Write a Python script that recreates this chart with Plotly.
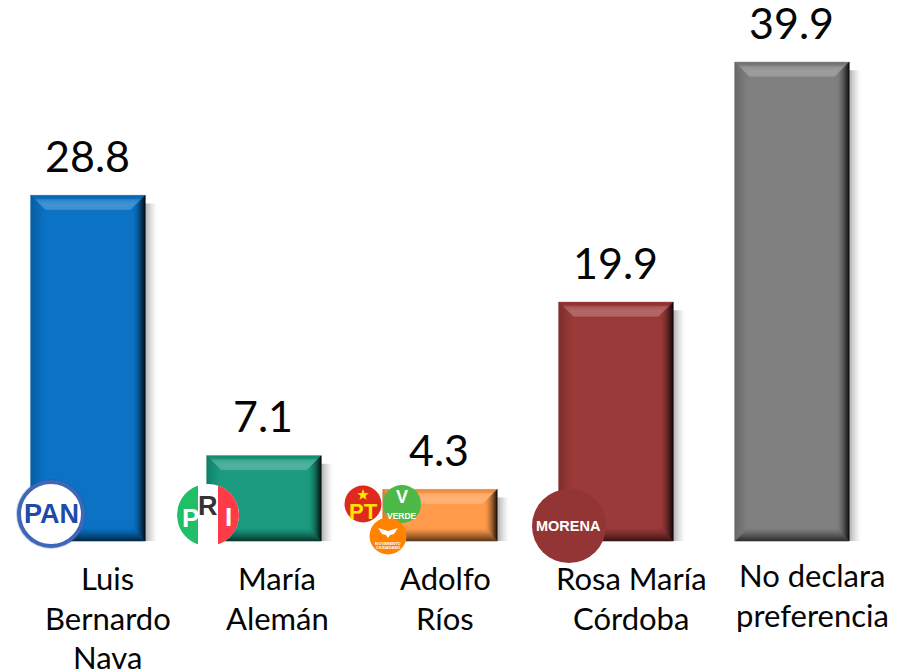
import math
import plotly.graph_objects as go

categories = ["Luis Bernardo Nava", "María Alemán", "Adolfo Ríos", "Rosa María Córdoba", "No declara preferencia"]
values = [28.8, 7.1, 4.3, 19.9, 39.9]
value_text = ["28.8", "7.1", "4.3", "19.9", "39.9"]
base_colors = ["#0B72C4", "#1B9B7F", "#FF9B4B", "#9A3A39", "#808080"]
label_lines = [["Luis", "Bernardo", "Nava"], ["María", "Alemán"], ["Adolfo", "Ríos"], ["Rosa María", "Córdoba"], ["No declara", "preferencia"]]
label_dx = [19.5, 13, 5, 15, 20]
label_top = [563, 563, 563, 563, 560]

W, H = 900, 672
PLOT_W = 880
BASE_Y = 541
PX_PER_UNIT = 12.0
Y_MAX = BASE_Y / PX_PER_UNIT
Y_MIN = -(H - BASE_Y) / PX_PER_UNIT
BAR_GAP = 0.35
FONT = "Lato"
INK = "#050505"


def rgb(h):
    return tuple(int(h[i:i + 2], 16) for i in (1, 3, 5))


def mix(h, other, t):
    a = rgb(h)
    return "rgb(%d,%d,%d)" % tuple(round(a[i] + (other[i] - a[i]) * t) for i in range(3))


WHITE, BLACK = (255, 255, 255), (0, 0, 0)


def poly(cat, pts, fill, layer="above", line=None, width=0):
    path = "M " + " L ".join("%.2f,%.2f" % p for p in pts) + " Z"
    return dict(type="path", xsizemode="pixel", ysizemode="pixel", xanchor=cat, yanchor=0,
                path=path, fillcolor=fill, layer=layer,
                line=dict(width=width, color=line or fill))


def circle(cat, cx, cy, r, fill, line=None, width=0):
    return dict(type="circle", xsizemode="pixel", ysizemode="pixel", xanchor=cat, yanchor=0,
                x0=cx - r, x1=cx + r, y0=cy - r, y1=cy + r, fillcolor=fill, layer="above",
                line=dict(width=width, color=line or fill))


def segment(cx, cy, r, xa, xb, n=24):
    xa, xb = max(xa, -r), min(xb, r)
    pts = []
    for i in range(n + 1):
        x = xa + (xb - xa) * i / n
        pts.append((cx + x, cy + math.sqrt(max(r * r - x * x, 0))))
    for i in range(n + 1):
        x = xb - (xb - xa) * i / n
        pts.append((cx + x, cy - math.sqrt(max(r * r - x * x, 0))))
    return pts


def star(cx, cy, r):
    pts = []
    for k in range(10):
        rad = r if k % 2 == 0 else r * 0.42
        ang = math.pi / 2 + k * math.pi / 5
        pts.append((cx + rad * math.cos(ang), cy + rad * math.sin(ang)))
    return pts


shapes = []
annotations = []
unit_x = PLOT_W / len(values)
half = unit_x * (1 - BAR_GAP) / 2
STEPS, STEP = 7, 2.0

for i, (v, col) in enumerate(zip(values, base_colors)):
    h = v * PX_PER_UNIT
    # soft shadow, to the right of the bar
    for k in range(8):
        shapes.append(poly(i, [(half + k * 1.5, 0), (half + (k + 1) * 1.5, 0),
                               (half + (k + 1) * 1.5, h - 8), (half + k * 1.5, h - 8)],
                           "rgba(0,0,0,%.3f)" % (0.30 * (1 - k / 8) ** 1.5), layer="below"))
    # bevel, built from thin strips drawn outermost first; each strip covers
    # everything inside its outer edge seam-free thanks to a hairline stroke
    for k in range(STEPS):
        a, b = k * STEP, (k + 1) * STEP
        t = k / (STEPS - 1)
        top = mix(col, WHITE, 0.24 * math.sin(t * math.pi * 0.62)) if k >= 2 else mix(col, BLACK, 0.10 * (1 - k / 2))
        right = mix(col, BLACK, 0.85 * (1 - t) ** 1.6)
        bottom = mix(col, BLACK, 0.6 * (1 - t) ** 1.2)
        left = mix(col, BLACK, 0.18 * (1 - t))
        L0, L1, R0, R1 = -half + a, -half + b, half - a, half - b
        T0, T1, B0, B1 = h - a, h - b, a, b
        shapes.append(poly(i, [(L0, T0), (R0, T0), (R1, T1), (L1, T1)], top, width=0.6))
        shapes.append(poly(i, [(R0, T0), (R0, B0), (R1, B1), (R1, T1)], right, width=0.6))
        shapes.append(poly(i, [(L0, B0), (R0, B0), (R1, B1), (L1, B1)], bottom, width=0.6))
        shapes.append(poly(i, [(L0, T0), (L0, B0), (L1, B1), (L1, T1)], left, width=0.6))
    # value label
    annotations.append(dict(x=i, y=v, xref="x", yref="y", text=value_text[i], showarrow=False,
                            xanchor="center", yanchor="middle", yshift=40, xshift=-1,
                            font=dict(family=FONT, size=43, color=INK)))
    # category label, one line at a time
    for j, line in enumerate(label_lines[i]):
        annotations.append(dict(x=i, y=0, xref="x", yref="y", text=line, showarrow=False,
                                xanchor="center", yanchor="middle", xshift=label_dx[i],
                                yshift=BASE_Y - (label_top[i] + 15 + j * 39.5),
                                font=dict(family=FONT, size=31, color=INK)))


def note(cat, dx, dy, text, size, color, family="Liberation Sans", bold=True):
    annotations.append(dict(x=cat, y=0, xref="x", yref="y", text="<b>%s</b>" % text if bold else text,
                            showarrow=False, xanchor="center", yanchor="middle", xshift=dx, yshift=dy,
                            font=dict(family=family, size=size, color=color)))


# PAN
shapes.append(circle(0, -37, 27, 35, "rgba(30,75,168,0.25)"))
shapes.append(circle(0, -37, 27, 32, "#FFFFFF", "#3F67B8", 4))
note(0, -37, 27, "PAN", 27, "#1E4BA8")
# PRI
shapes.append(circle(1, -56, 26, 31, "#FFFFFF"))
shapes.append(poly(1, segment(-56, 26, 31, -31, -10), "#1FBF68"))
shapes.append(poly(1, segment(-56, 26, 31, 10, 31), "#FF3B47"))
note(1, -74, 23, "P", 26, "#FFFFFF")
note(1, -56, 35, "R", 27, "#333333")
note(1, -36, 24, "I", 26, "#FFFFFF")
# PT, Verde, Movimiento Ciudadano
shapes.append(circle(2, -77, 37, 18.5, "#DE2A1E"))
shapes.append(poly(2, star(-77, 46, 6), "#FFE600"))
note(2, -77, 30, "PT", 22, "#FFE600")
shapes.append(circle(2, -38, 37, 19, "#4CB848"))
note(2, -38, 44, "V", 18, "#FFFFFF")
note(2, -38, 25, "VERDE", 8.5, "#FFFFFF")
shapes.append(circle(2, -52, 5, 18.5, "#FF8300"))
shapes.append(poly(2, [(-62, 13), (-52, 10), (-42, 13), (-46, 7), (-50, 6), (-52, 3), (-54, 6), (-58, 7)], "#FFFFFF"))
note(2, -52, -2, "MOVIMIENTO", 4, "#FFFFFF")
note(2, -52, -6, "CIUDADANO", 4, "#FFFFFF")
# Morena
shapes.append(circle(3, -47, 15, 37, "#923534"))
note(3, -47.5, 15, "MORENA", 14.5, "#FFFFFF")

fig = go.Figure(go.Bar(
    x=categories, y=values, marker=dict(color=base_colors, line=dict(width=0)),
))
fig.update_layout(
    width=W, height=H, paper_bgcolor="#FFFFFF", plot_bgcolor="#FFFFFF",
    margin=dict(l=0, r=W - PLOT_W, t=0, b=0, pad=0),
    bargap=BAR_GAP, showlegend=False, shapes=shapes, annotations=annotations,
    xaxis=dict(range=[-0.5, len(values) - 0.5], showticklabels=False, showgrid=False, zeroline=False, ticks="", showline=False),
    yaxis=dict(range=[Y_MIN, Y_MAX], visible=False, fixedrange=True),
)
fig.write_html("out.html", config=dict(displayModeBar=False),
               post_script="document.body.style.margin='0';document.documentElement.style.overflow='hidden';")
